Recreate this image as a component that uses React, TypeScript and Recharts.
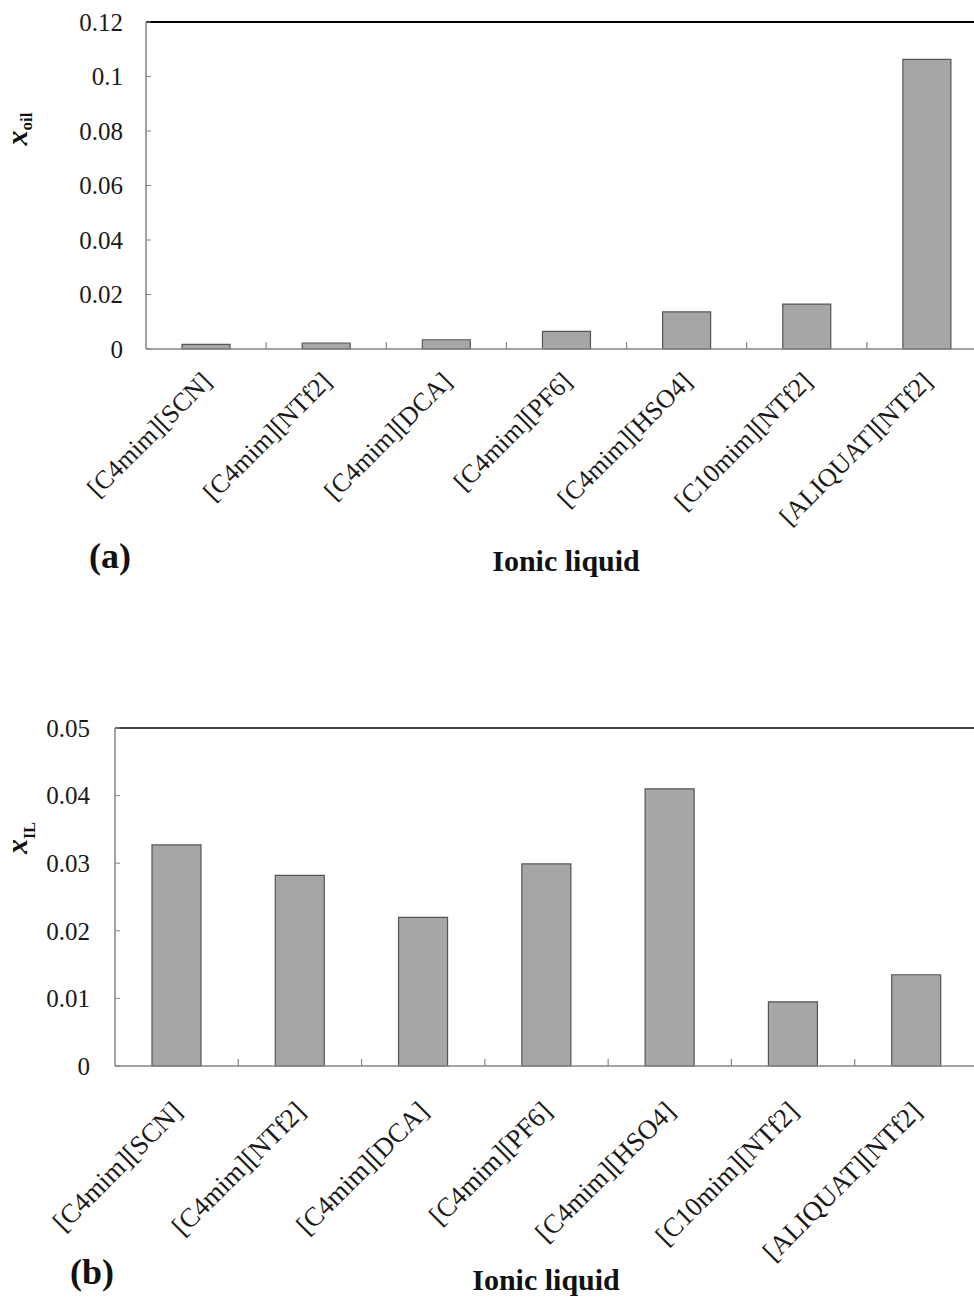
import React from 'react';
import { BarChart, Bar, XAxis, YAxis, ReferenceLine, Label } from 'recharts';

const categories = [
  '[C4mim][SCN]',
  '[C4mim][NTf2]',
  '[C4mim][DCA]',
  '[C4mim][PF6]',
  '[C4mim][HSO4]',
  '[C10mim][NTf2]',
  '[ALIQUAT][NTf2]',
];

// panel (a): mole fraction of oil in the IL phase
const xOil = [0.0017, 0.0022, 0.0034, 0.0065, 0.0136, 0.0165, 0.1063];
const oilTicks = [0, 0.02, 0.04, 0.06, 0.08, 0.1, 0.12];

// panel (b): mole fraction of IL in the oil phase
const xIL = [0.0327, 0.0282, 0.022, 0.0299, 0.041, 0.0095, 0.0135];
const ilTicks = [0, 0.01, 0.02, 0.03, 0.04, 0.05];

const dataA = categories.map((name, i) => ({ name, value: xOil[i] }));
const dataB = categories.map((name, i) => ({ name, value: xIL[i] }));

const SERIF = '"Liberation Serif", "Times New Roman", serif';
const AXIS_GREY = '#858585';

const makeCategoryTick = (dx: number, dy: number, size: number) => (props: any) => {
  const { x, y, payload, index, width } = props;
  const half = payload && payload.offset != null ? payload.offset : width / categories.length / 2;
  const tx = x + dx;
  const ty = y + dy;
  return (
    <g>
      {index > 0 && (
        <line x1={x - half} x2={x - half} y1={y} y2={y - 7} stroke={AXIS_GREY} strokeWidth={1.2} />
      )}
      <text
        x={tx}
        y={ty}
        transform={`rotate(-45, ${tx}, ${ty})`}
        textAnchor="end"
        fontFamily={SERIF}
        fontSize={size}
        fill="#1a1a1a"
      >
        {payload.value}
      </text>
    </g>
  );
};

const yLabel = (sub: string, cy: number, subShift: number, subSize: number) => () => (
  <text
    x={27}
    y={cy}
    transform={`rotate(-90, 27, ${cy})`}
    textAnchor="middle"
    fontFamily={SERIF}
    fontWeight="bold"
    fill="#111"
  >
    <tspan fontStyle="italic" fontSize={30}>x</tspan>
    <tspan fontSize={subSize} dy={subShift}>{sub}</tspan>
  </text>
);

const captionStyle = (size: number): React.CSSProperties => ({
  position: 'absolute',
  fontFamily: SERIF,
  fontWeight: 'bold',
  fontSize: size,
  lineHeight: 1,
  color: '#111',
  whiteSpace: 'nowrap',
});

const App: React.FC = () => {
  return (
    <div
      style={{
        position: 'absolute',
        left: 0,
        top: 0,
        width: 974,
        height: 1297,
        overflow: 'hidden',
        background: '#fff',
      }}
    >
      {/* (a) */}
      <div style={{ position: 'absolute', left: 0, top: 0 }}>
        <BarChart width={990} height={600} data={dataA} margin={{ top: 22, right: 3, left: 0, bottom: 0 }} barCategoryGap="30%">
          <XAxis
            dataKey="name"
            interval={0}
            height={251}
            tickLine={false}
            tickSize={0}
            tickMargin={0}
            axisLine={{ stroke: AXIS_GREY, strokeWidth: 1.5 }}
            tick={makeCategoryTick(7, 34, 26)}
          />
          <YAxis
            width={146}
            domain={[0, 0.12]}
            ticks={oilTicks}
            interval={0}
            tickSize={-5}
            tickMargin={28}
            tickLine={{ stroke: AXIS_GREY }}
            axisLine={{ stroke: AXIS_GREY, strokeWidth: 1.5 }}
            tick={{ fontFamily: SERIF, fontSize: 25, fill: '#1a1a1a' }}
            tickFormatter={(v: number) => String(v)}
          >
            <Label content={yLabel('oil', 129, 5, 17)} />
          </YAxis>
          <ReferenceLine y={0.12} stroke="#000" strokeWidth={1.8} />
          <Bar dataKey="value" fill="#a6a6a6" stroke="#555" strokeWidth={1.2} isAnimationActive={false} />
        </BarChart>
      </div>
      <div style={{ ...captionStyle(36), left: 89, top: 538 }}>(a)</div>
      <div style={{ ...captionStyle(30), left: 416, width: 300, textAlign: 'center', top: 546 }}>Ionic liquid</div>

      {/* (b) */}
      <div style={{ position: 'absolute', left: 0, top: 700 }}>
        <BarChart width={990} height={597} data={dataB} margin={{ top: 28, right: 12, left: 0, bottom: 0 }} barCategoryGap="30%">
          <XAxis
            dataKey="name"
            interval={0}
            height={231}
            tickLine={false}
            tickSize={0}
            tickMargin={0}
            axisLine={{ stroke: AXIS_GREY, strokeWidth: 1.5 }}
            tick={makeCategoryTick(7, 47, 27)}
          />
          <YAxis
            width={115}
            domain={[0, 0.05]}
            ticks={ilTicks}
            interval={0}
            tickSize={-5}
            tickMargin={30}
            tickLine={{ stroke: AXIS_GREY }}
            axisLine={{ stroke: AXIS_GREY, strokeWidth: 1.5 }}
            tick={{ fontFamily: SERIF, fontSize: 25, fill: '#1a1a1a' }}
            tickFormatter={(v: number) => String(v)}
          >
            <Label content={yLabel('IL', 138, 8, 16)} />
          </YAxis>
          <ReferenceLine y={0.05} stroke="#444" strokeWidth={1.8} />
          <Bar dataKey="value" fill="#a6a6a6" stroke="#555" strokeWidth={1.2} isAnimationActive={false} />
        </BarChart>
      </div>
      <div style={{ ...captionStyle(36), left: 70, top: 1254 }}>(b)</div>
      <div style={{ ...captionStyle(30), left: 396, width: 300, textAlign: 'center', top: 1265 }}>Ionic liquid</div>
    </div>
  );
};

export default App;
